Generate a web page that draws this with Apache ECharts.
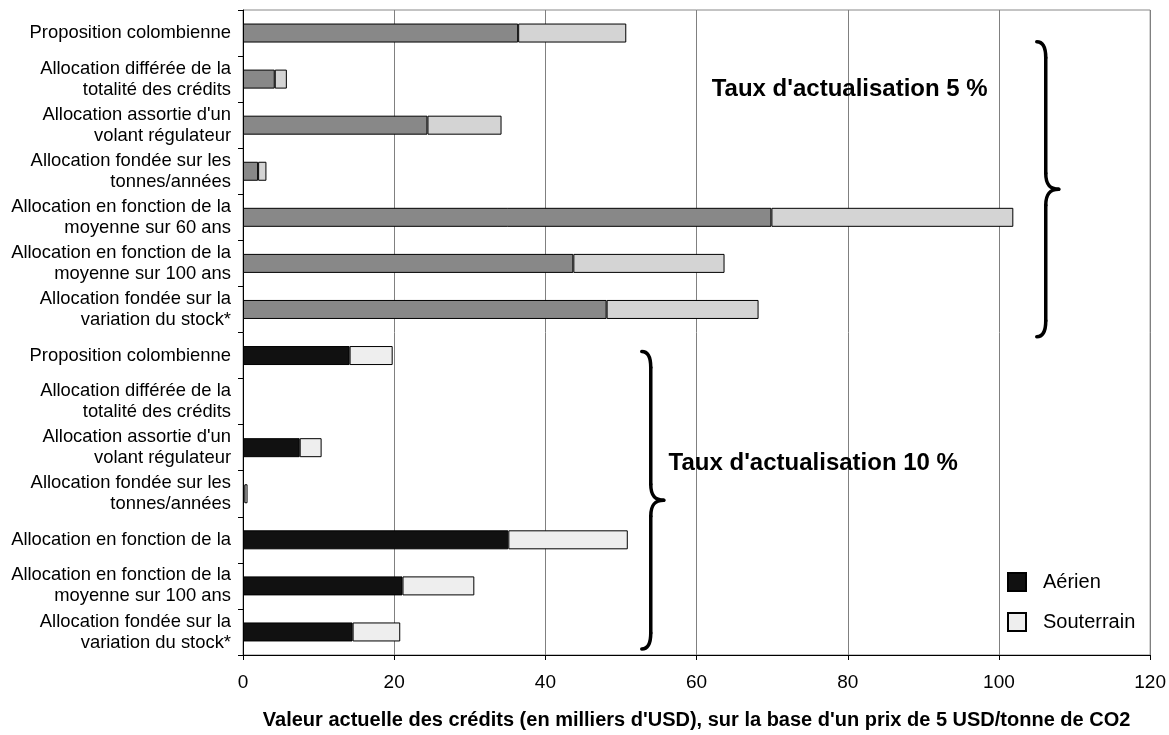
<!DOCTYPE html>
<html>
<head>
<meta charset="utf-8">
<script src="https://cdn.jsdelivr.net/npm/echarts@6/dist/echarts.min.js"></script>
<style>
html,body{margin:0;padding:0;background:#fff;}
#chart{width:1169px;height:735px;}
</style>
</head>
<body>
<div id="chart"></div>
<script>
// ---- data ----
var categories = [
  "Proposition colombienne",
  "Allocation différée de la\ntotalité des crédits",
  "Allocation assortie d'un\nvolant régulateur",
  "Allocation fondée sur les\ntonnes/années",
  "Allocation en fonction de la\nmoyenne sur 60 ans",
  "Allocation en fonction de la\nmoyenne sur 100 ans",
  "Allocation fondée sur la\nvariation du stock*",
  "Proposition colombienne",
  "Allocation différée de la\ntotalité des crédits",
  "Allocation assortie d'un\nvolant régulateur",
  "Allocation fondée sur les\ntonnes/années",
  "Allocation en fonction de la",
  "Allocation en fonction de la\nmoyenne sur 100 ans",
  "Allocation fondée sur la\nvariation du stock*"
];
// group of each row: 0 = taux 5 %, 1 = taux 10 %
var groupOfRow = [0,0,0,0,0,0,0,1,1,1,1,1,1,1];
var aerien     = [36.4, 4.2, 24.4, 2.0, 69.9, 43.7, 48.1, 14.1, 0, 7.5, 0.2, 35.1, 21.1, 14.5];
var souterrain = [14.3, 1.6,  9.8, 1.1, 32.0, 20.0, 20.1,  5.7, 0, 2.9, 0.4, 15.8,  9.5,  6.3];
var xTicks = [0, 20, 40, 60, 80, 100, 120];
var seriesNames = ["Aérien", "Souterrain"];
var groupLabels = ["Taux d'actualisation 5 %", "Taux d'actualisation 10 %"];

var FONT = '"Liberation Sans", Arial, sans-serif';
var aerColors = ['#888888', '#111111'];
var souColors = ['#d4d4d4', '#eeeeee'];

function build(values, colors) {
  return values.map(function (v, i) {
    var st = { color: colors[groupOfRow[i]] };
    if (v === 0) { st.borderWidth = 0; }
    return { value: v, itemStyle: st };
  });
}

var chart = echarts.init(document.getElementById('chart'));
var option = {
  animation: false,
  backgroundColor: '#ffffff',
  grid: {
    left: 243, right: 15, top: 10, bottom: 77,
    show: true, borderColor: '#888888', borderWidth: 1
  },
  legend: {
    orient: 'vertical',
    left: 1002, top: 567,
    itemWidth: 18, itemHeight: 18, itemGap: 20,
    icon: 'rect',
    data: seriesNames,
    textStyle: { fontFamily: FONT, fontSize: 20, color: '#000', padding: [0, 0, 0, 12] }
  },
  xAxis: {
    type: 'value',
    min: xTicks[0], max: xTicks[xTicks.length - 1], interval: xTicks[1] - xTicks[0],
    name: "Valeur actuelle des crédits (en milliers d'USD), sur la base d'un prix de 5 USD/tonne de CO2",
    nameLocation: 'middle',
    nameGap: 55,
    nameTextStyle: { fontFamily: FONT, fontSize: 20, fontWeight: 'bold', color: '#000' },
    axisLine: { show: true, lineStyle: { color: '#000', width: 1 } },
    axisTick: { show: true, length: 5, lineStyle: { color: '#000' } },
    axisLabel: { fontFamily: FONT, fontSize: 19, color: '#000', margin: 18 },
    splitLine: { show: true, lineStyle: { color: '#808080', width: 1 } }
  },
  yAxis: {
    type: 'category',
    inverse: true,
    data: categories,
    axisLine: { show: true, lineStyle: { color: '#000', width: 1 } },
    axisTick: { show: true, length: 5, lineStyle: { color: '#000' } },
    axisLabel: { fontFamily: FONT, fontSize: 18.4, color: '#000', margin: 12, lineHeight: 21, align: 'right', interval: 0 },
    splitLine: { show: false }
  },
  series: [
    {
      name: seriesNames[0], type: 'bar', stack: 'total', barWidth: 19,
      itemStyle: { color: '#111111', borderColor: '#000', borderWidth: 1 },
      data: build(aerien, aerColors)
    },
    {
      name: seriesNames[1], type: 'bar', stack: 'total', barWidth: 19,
      itemStyle: { color: '#eeeeee', borderColor: '#000', borderWidth: 1 },
      data: build(souterrain, souColors)
    }
  ]
};
chart.setOption(option);

// ---- annotations (braces + group labels), positioned through the axes ----
function px(xVal, rowF) {
  var y0 = chart.convertToPixel({ yAxisIndex: 0 }, 0);
  var y1 = chart.convertToPixel({ yAxisIndex: 0 }, 1);
  var x = chart.convertToPixel({ xAxisIndex: 0 }, xVal);
  return [x, y0 + rowF * (y1 - y0)];
}
var LINE = { fill: null, stroke: '#000', lineWidth: 3.5, lineCap: 'round' };
function braceElements(x, yTop, yBot) {
  var w = 22, s = 9, r = 16;
  var ym = (yTop + yBot) / 2;
  var xs = x + s;
  var els = [];
  function curve(x1, y1, c1x, c1y, c2x, c2y, x2, y2) {
    els.push({ type: 'bezierCurve', z: 10, style: LINE,
      shape: { x1: x1, y1: y1, cpx1: c1x, cpy1: c1y, cpx2: c2x, cpy2: c2y, x2: x2, y2: y2 } });
  }
  function line(x1, y1, x2, y2) {
    els.push({ type: 'line', z: 10, style: LINE, shape: { x1: x1, y1: y1, x2: x2, y2: y2 } });
  }
  curve(x, yTop, x + s * 0.8, yTop, xs, yTop + r * 0.4, xs, yTop + r);
  line(xs, yTop + r, xs, ym - r);
  curve(xs, ym - r, xs, ym - r * 0.3, xs + 4, ym, x + w, ym);
  curve(x + w, ym, xs + 4, ym, xs, ym + r * 0.3, xs, ym + r);
  line(xs, ym + r, xs, yBot - r);
  curve(xs, yBot - r, xs, yBot - r * 0.4, x + s * 0.8, yBot, x, yBot);
  return els;
}
var braces = [
  { x: 105.0, top: 0.19, bottom: 6.59 },
  { x: 52.75, top: 6.91, bottom: 13.37 }
];
var labelPos = [
  { x: 62.0, row: 1.23 },
  { x: 56.3, row: 9.35 }
];
var elements = [];
braces.forEach(function (b) {
  var p0 = px(b.x, b.top), p1 = px(b.x, b.bottom);
  elements = elements.concat(braceElements(p0[0], p0[1], p1[1]));
});
labelPos.forEach(function (l, i) {
  var p = px(l.x, l.row);
  elements.push({
    type: 'text', x: p[0], y: p[1], z: 10,
    style: { text: groupLabels[i], fill: '#000', font: 'bold 24px ' + FONT, textAlign: 'left', textVerticalAlign: 'middle' }
  });
});
chart.setOption({ graphic: { elements: elements } });
</script>
</body>
</html>
